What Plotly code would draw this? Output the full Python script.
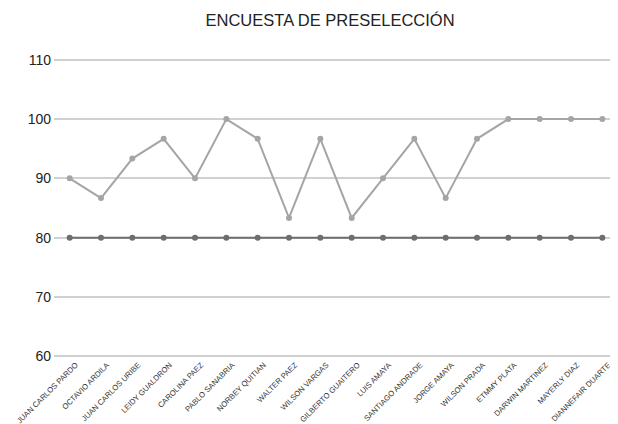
import plotly.graph_objects as go

categories = ["JUAN CARLOS PARDO", "OCTAVIO ARDILA", "JUAN CARLOS URIBE", "LEIDY GUALDRON",
              "CAROLINA PAEZ", "PABLO SANABRIA", "NORBEY QUITIAN", "WALTER PAEZ",
              "WILSON VARGAS", "GILBERTO GUAITERO", "LUIS AMAYA", "SANTIAGO ANDRADE",
              "JORGE AMAYA", "WILSON PRADA", "ETMMY PLATA", "DARWIN MARTINEZ",
              "MAYERLY DIAZ", "DIANNEFAIR DUARTE"]
puntaje = [90, 86.67, 93.33, 96.67, 90, 100, 96.67, 83.33, 96.67, 83.33,
           90, 96.67, 86.67, 96.67, 100, 100, 100, 100]
minimo = [80] * 18
y_ticks = [60, 70, 80, 90, 100, 110]

fig = go.Figure()
fig.add_trace(go.Scatter(x=categories, y=puntaje, mode="lines+markers",
                         line=dict(color="#a5a5a5", width=2),
                         marker=dict(color="#a5a5a5", size=6), name="Puntaje"))
fig.add_trace(go.Scatter(x=categories, y=minimo, mode="lines+markers",
                         line=dict(color="#6e6e6e", width=2),
                         marker=dict(color="#6e6e6e", size=6), name="Mínimo"))

fig.update_layout(
    width=610, height=416,
    margin=dict(l=46, r=0, t=50, b=66),
    paper_bgcolor="white", plot_bgcolor="white",
    showlegend=False,
    font=dict(family="Liberation Sans, Arial", color="#222"),
    title=dict(text="ENCUESTA DE PRESELECCIÓN", x=0.528, xanchor="center",
               y=0.97, yanchor="middle", font=dict(size=16.5, color="#222")),
    xaxis=dict(tickangle=-45, tickfont=dict(size=7.7, color="#333"),
               showgrid=False, showline=False, ticks="", range=[-0.5, 17.5],
               automargin=False, ticklabelstandoff=0, ticklabelshift=6),
    yaxis=dict(range=[59.7, 110.3], tickvals=y_ticks, tickfont=dict(size=14, color="#222"),
               gridcolor="#d0d0d0", gridwidth=1.5, zeroline=False, showline=False,
               ticks="", ticklabelstandoff=2, automargin=False),
)
fig.write_html("out.html")
